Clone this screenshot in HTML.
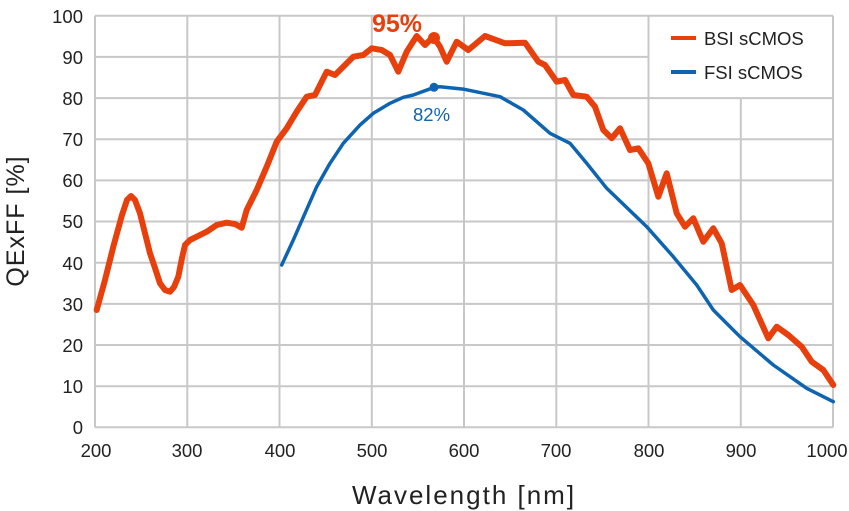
<!DOCTYPE html><html><head><style>body{margin:0;background:#fff}svg{display:block}text{font-family:"Liberation Sans",sans-serif}</style></head><body>
<svg width="849" height="511" viewBox="0 0 849 511">
<g stroke="#c8c8c8" stroke-width="2" fill="none">
<path d="M95 15.7H833M95 427.3H833M95 56.9H649M95 98.1H833M95 139.2H833M95 180.4H833M95 221.5H833M95 262.7H833M95 303.9H833M95 345H833M95 386.2H833"/>
<path d="M95 15.7V427.3M187.3 15.7V427.3M279.5 15.7V427.3M371.8 15.7V427.3M464 15.7V427.3M556.3 15.7V427.3M648.5 15.7V427.3M740.8 98V427.3M833 15.7V427.3"/>
</g>
<g font-size="18.5" fill="#222" text-anchor="end">
<text x="83" y="23">100</text><text x="83" y="64">90</text><text x="83" y="105">80</text><text x="83" y="146">70</text><text x="83" y="187">60</text><text x="83" y="228">50</text><text x="83" y="270">40</text><text x="83" y="311">30</text><text x="83" y="352">20</text><text x="83" y="393">10</text><text x="83" y="434">0</text>
</g>
<g font-size="18.5" fill="#222" text-anchor="middle">
<text x="96" y="457">200</text><text x="187" y="457">300</text><text x="280" y="457">400</text><text x="372" y="457">500</text><text x="464" y="457">600</text><text x="556" y="457">700</text><text x="649" y="457">800</text><text x="741" y="457">900</text><text x="827" y="457">1000</text>
</g>
<text x="464" y="504" font-size="26" fill="#222" text-anchor="middle" letter-spacing="2">Wavelength [nm]</text>
<text transform="translate(24,221) rotate(-90)" font-size="25" fill="#222" text-anchor="middle" letter-spacing="1">QExFF [%]</text>
<polyline fill="none" stroke="#0e64b0" stroke-width="3.5" stroke-linejoin="round" stroke-linecap="round" points="281.7,265 293.3,240 305,213.3 316.7,186.7 330,163.3 343.3,143.3 360,125 373.3,113.3 390,103.3 403.3,97.3 413.3,95 434.3,87.3 440,86.7 464.3,89.3 500,96.7 523.3,110 550,133.3 570,143.3 586.7,163.3 606.7,188.3 646.7,226.7 673.3,256.7 696.7,285 713.3,310 740,336.7 773.3,365 806.7,388.3 833.3,401.7"/>
<polyline fill="none" stroke="#e8400c" stroke-width="6" stroke-linejoin="round" stroke-linecap="round" points="96.7,310 105,280 113.3,246.7 122,215 127,200 131,196 135,200 140,213.3 150,253.3 155,268 160,283.3 165,290 170,291.7 174,287 178.3,276.7 182,258 185,245 190,240 196.7,236.7 206.7,231.7 216.7,225 226.7,222.7 235,224 241.7,227.7 246.7,210 256.7,190 266.7,166.7 276.7,141.7 286.7,128.3 296.7,111.7 306.7,96.7 315,95 326.7,71.7 335,75 345,65 353.3,56.7 363.3,55 371.7,48.3 381.7,50 390,55 398.3,71.7 406.7,51.7 416.7,36 425,45 433.3,36.7 440,46.7 446.7,61.7 456.7,41.7 468.3,50 485,36 505,43.3 525,42.7 538.3,61.7 545,65 556.7,81.7 565,80 573.3,95 586.7,96.7 595,106.7 603.3,130 611.7,138.3 620,128.3 630,150 638.3,148.3 648.3,163.3 658.3,196.7 666.7,173.3 676.7,213.3 685,226.7 693.3,218.3 703.3,241.7 713.3,228.3 721.7,243.3 731.7,290 740,285 753.3,305 768.3,338.3 776.7,326.7 788.3,335 801.7,346.7 811.7,361.7 823.3,370 833.3,385"/>
<circle cx="434" cy="38" r="6" fill="#e8400c"/>
<circle cx="434" cy="87.3" r="4.5" fill="#0e64b0"/>
<text x="372" y="32" font-size="25" font-weight="bold" fill="#e8400c">95%</text>
<text x="413" y="121" font-size="18.5" fill="#0e64b0">82%</text>
<line x1="671" y1="38" x2="696" y2="38" stroke="#e8400c" stroke-width="4"/>
<line x1="671" y1="72" x2="696" y2="72" stroke="#0e64b0" stroke-width="4"/>
<text x="704" y="45" font-size="18.5" fill="#222">BSI sCMOS</text>
<text x="704" y="79" font-size="18.5" fill="#222">FSI sCMOS</text>
</svg></body></html>
